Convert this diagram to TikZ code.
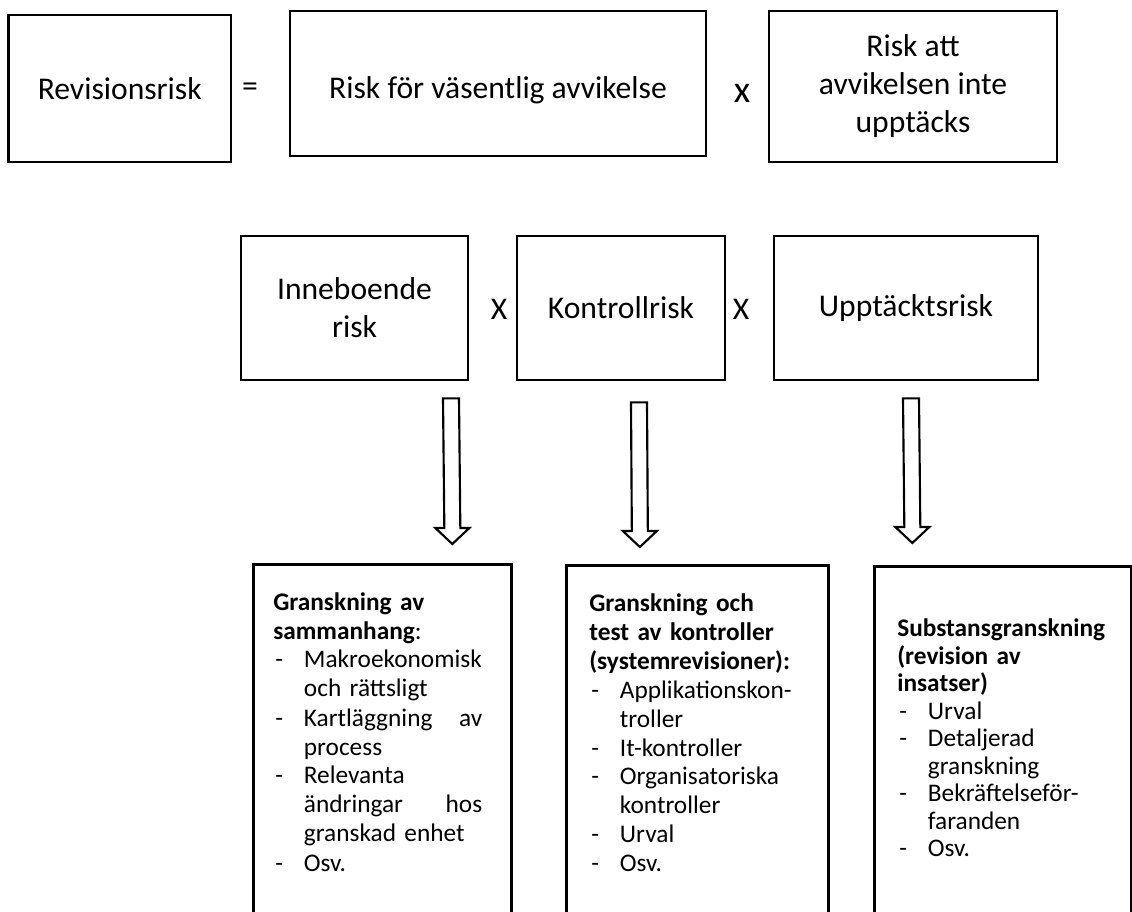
\documentclass[tikz,border=0pt]{standalone}
\usepackage{fontspec}
\setmainfont{Carlito}
\usetikzlibrary{calc}
\hyphenpenalty=10000
\exhyphenpenalty=10000
\newcommand{\dashitem}{\makebox[23pt][l]{\hspace{1.5pt}-}}
\newcommand{\inditem}{\hspace*{23pt}}
\newcommand{\blockarrow}[2]{%
  \draw[barrow] ($(#1)+(-8,0)$) -- ($(#1)+(8,0)$) -- ($(#2)+(8,-16)$) -- ($(#2)+(17,-16)$)
    -- (#2) -- ($(#2)+(-17,-16)$) -- ($(#2)+(-8,-16)$) -- cycle;}
\begin{document}
\begin{tikzpicture}[x=0.75pt,y=-0.75pt,
  box/.style={draw=black, line width=2pt, fill=white, inner sep=0pt, align=center,
    font=\fontsize{23.7}{28.5}\selectfont},
  lowbox/.style={draw=black, line width=2pt, fill=white, inner sep=0pt, anchor=north west,
    minimum height=277.5pt},
  op/.style={inner sep=0pt, font=\fontsize{23.7}{28.5}\selectfont},
  listtext/.style={anchor=base west, inner sep=0pt, align=left},
  barrow/.style={draw=black, line width=1.6pt, fill=white, line join=miter}]
\fill[white] (0,0) rectangle (1132,912);
\clip (0,0) rectangle (1132,912);

% top row
\node[box, minimum width=166.875pt, minimum height=110.25pt] (rev) at (119.75,88.5) {Revisionsrisk};
\node[op] (eq) at (250,90) {=};
\node[box, minimum width=312pt, minimum height=108.75pt, text height=21.8pt, text depth=0pt] (rfv) at (498,83.5) {Risk för väsentlig avvikelse};
\node[op, font=\fontsize{28.5}{30}\selectfont] (x0) at (742,93.5) {x};
\node[box, minimum width=216pt, minimum height=113.25pt] (rat) at (913,86.5) {Risk att\\avvikelsen inte\\upptäcks};

% middle row
\node[box, minimum width=170.25pt, minimum height=108pt] (inn) at (354.5,308) {Inneboende\\risk};
\node[op] (x1) at (499,309) {X};
\node[box, minimum width=156pt, minimum height=108pt] (kon) at (621,308) {Kontrollrisk};
\node[op] (x2) at (741,309) {X};
\node[box, minimum width=198pt, minimum height=108pt] (upp) at (906,308) {Upptäcktsrisk};

% bottom boxes
\node[lowbox, minimum width=193.5pt] (g1) at (252,563) {};
\node[lowbox, minimum width=196.5pt] (g2) at (565,564) {};
\node[lowbox, minimum width=192.75pt] (g3) at (873,565) {};

\node[listtext, text width=156.75pt, font=\fontsize{19}{21.75}\selectfont] (t1) at ($(g1.north west)+(21,47)$) {%
\textbf{Granskning av}\\
\textbf{sammanhang}:\\
\dashitem Makroekonomisk\\
\inditem och rättsligt\\
\dashitem Kartläggning\hfill av\\
\inditem process\\
\dashitem Relevanta\\
\inditem ändringar\hfill hos\\
\inditem granskad enhet\\
\dashitem Osv.};

\node[listtext, text width=175pt, font=\fontsize{19}{21.6}\selectfont] (t2) at ($(g2.north west)+(24,48)$) {%
\textbf{Granskning och}\\
\textbf{test av kontroller}\\
\textbf{(systemrevisioner):}\\
\dashitem Applikationskon-\\
\inditem troller\\
\dashitem It-kontroller\\
\dashitem Organisatoriska\\
\inditem kontroller\\
\dashitem Urval\\
\dashitem Osv.};

\node[listtext, text width=175pt, font=\fontsize{19}{20.6}\selectfont] (t3) at ($(g3.north west)+(24,72)$) {%
\textbf{Substansgranskning}\\
\textbf{(revision av}\\
\textbf{insatser)}\\
\dashitem Urval\\
\dashitem Detaljerad\\
\inditem granskning\\
\dashitem Bekräftelseför-\\
\inditem faranden\\
\dashitem Osv.};

% block arrows
\coordinate (a1s) at ($(inn.south)+(96.5,17)$);
\coordinate (a1e) at ($(g1.north)+(70,-19)$);
\coordinate (a2s) at ($(kon.south)+(18,21)$);
\coordinate (a2e) at ($(g2.north)+(-57.5,-17)$);
\coordinate (a3s) at ($(upp.south)+(5,17)$);
\coordinate (a3e) at ($(g3.north)+(-90.5,-22)$);
\blockarrow{a1s}{a1e}
\blockarrow{a2s}{a2e}
\blockarrow{a3s}{a3e}
\end{tikzpicture}
\end{document}
